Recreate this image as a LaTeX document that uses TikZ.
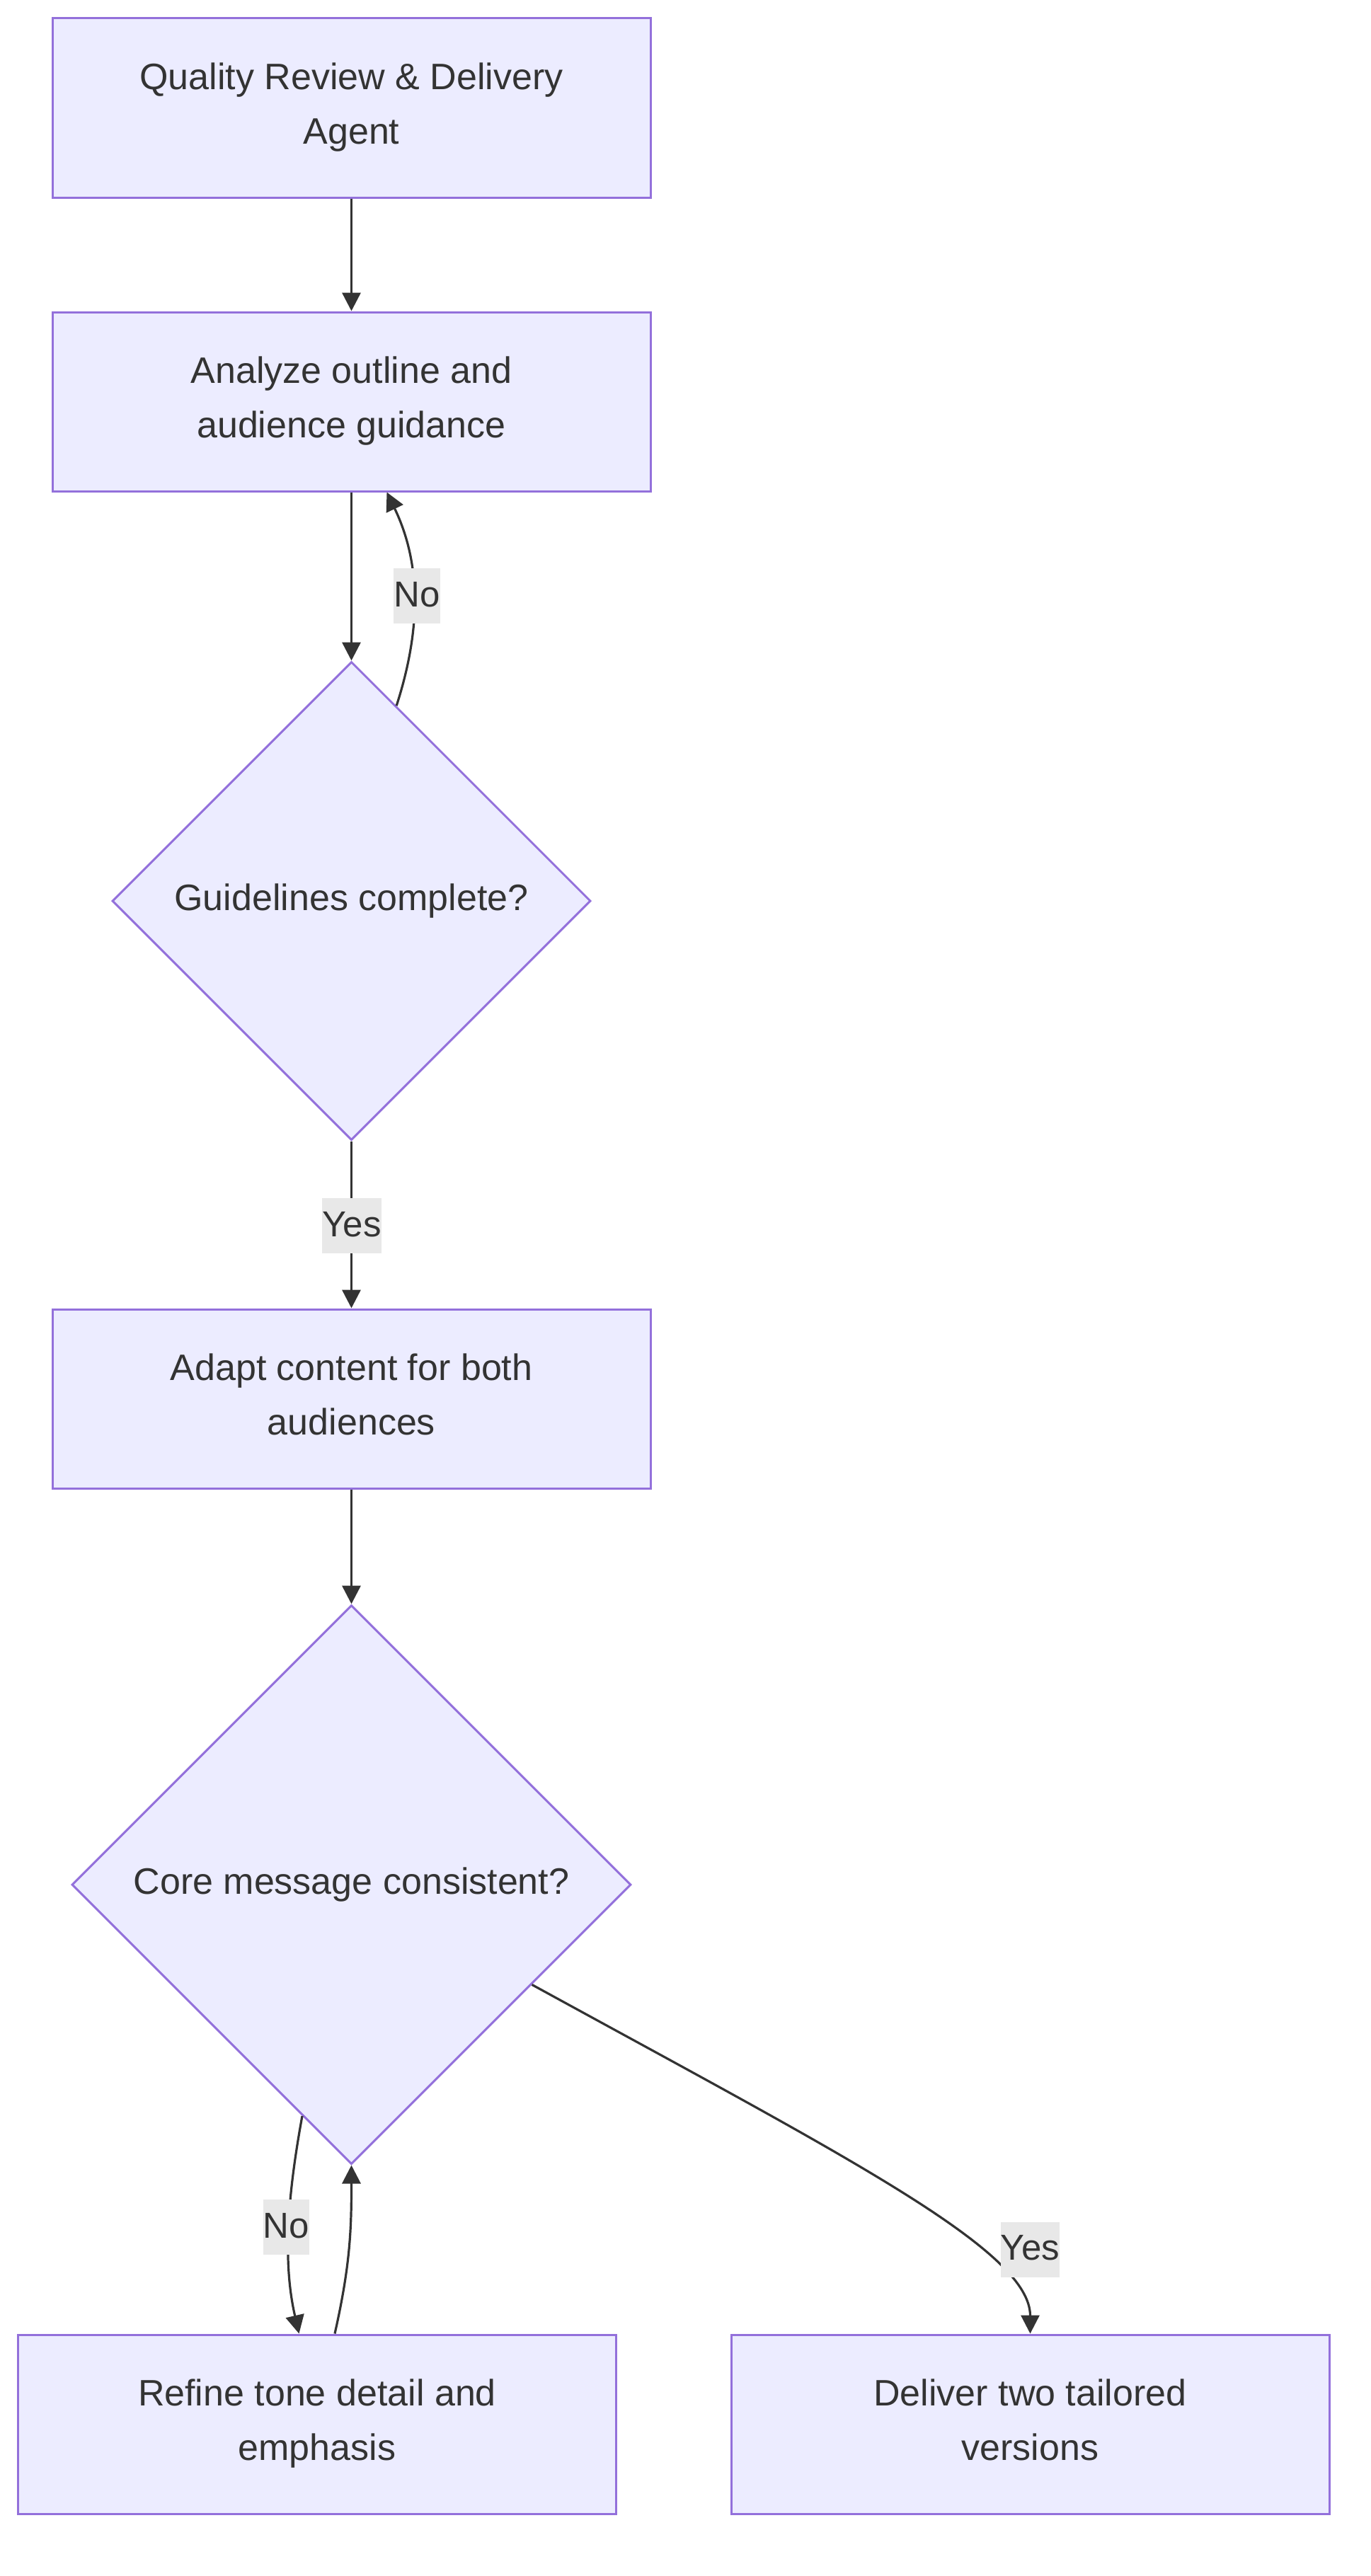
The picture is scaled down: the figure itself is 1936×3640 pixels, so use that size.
\documentclass[tikz,border=0pt]{standalone}
\usepackage{fontspec}
\setmainfont{Liberation Sans}
\usetikzlibrary{shapes.geometric,arrows.meta}
\definecolor{nodefill}{HTML}{ECECFF}
\definecolor{nodeline}{HTML}{9370DB}
\definecolor{ink}{HTML}{333333}
\definecolor{lblbg}{HTML}{E8E8E8}
\begin{document}
\begin{tikzpicture}[x=1pt,y=-1pt,
  procbox/.style={draw=nodeline, fill=nodefill, line width=3pt, minimum width=845pt, minimum height=253pt, inner sep=0pt, align=center, text=ink, text depth=13pt, font=\fontsize{52}{77}\selectfont},
  decision/.style={diamond, draw=nodeline, fill=nodefill, line width=3pt, minimum width=#1, minimum height=#1, inner sep=0pt, text=ink, font=\fontsize{52}{77}\selectfont},
  flow/.style={draw=ink, line width=3.5pt, -{Triangle[length=26pt,width=26pt]}},
  curveflow/.style={draw=ink, line width=3.2pt, -{Triangle[length=26pt,width=26pt]}},
  elabel/.style={fill=lblbg, text=ink, inner xsep=0pt, inner ysep=0pt, minimum height=78pt, text height=38pt, text depth=8pt, font=\fontsize{51}{60}\selectfont}
]
\fill[white] (0,0) rectangle (1936,3640);
\useasboundingbox (0,0) rectangle (1936,3640);

\node[procbox] (b1) at (496.5,152.5) {Quality Review \& Delivery\\Agent};
\node[procbox] (b2) at (496.5,567.5) {Analyze outline and\\audience guidance};
\node[decision=676pt] (d1) at (496.5,1273) {\makebox[0pt]{Guidelines complete?}};
\node[procbox] (b3) at (496.5,1976.5) {Adapt content for both\\audiences};
\node[decision=790pt] (d2) at (496.5,2663) {\makebox[0pt]{Core message consistent?}};
\node[procbox] (b4) at (448,3425.5) {Refine tone detail and\\emphasis};
\node[procbox] (b5) at (1455.5,3425.5) {Deliver two tailored\\versions};

\draw[flow] (b1.south) -- (b2.north);
\draw[flow] (b2.south) -- (d1.north);
\draw[curveflow] (d1.77.7) .. controls (598,880) and (592,790) .. ([xshift=50pt]b2.south);
\draw[flow] (d1.south) -- (b3.north);
\draw[flow] (b3.south) -- (d2.north);
\draw[curveflow] (d2.258.8) .. controls (405,3110) and (400,3200) .. ([xshift=-25.5pt]b4.north);
\draw[curveflow] ([xshift=25pt]b4.north) .. controls (495,3200) and (496.5,3150) .. (d2.south);
\draw[curveflow] (d2.331.7) .. controls (1200,3050) and (1455.5,3180) .. (b5.north);

\node[elabel] (l1) at (589,842) {No};
\node[elabel] (l2) at (497,1732) {Yes};
\node[elabel] (l3) at (404.5,3147) {No};
\node[elabel] (l4) at (1455.5,3178.5) {Yes};
\end{tikzpicture}
\end{document}
